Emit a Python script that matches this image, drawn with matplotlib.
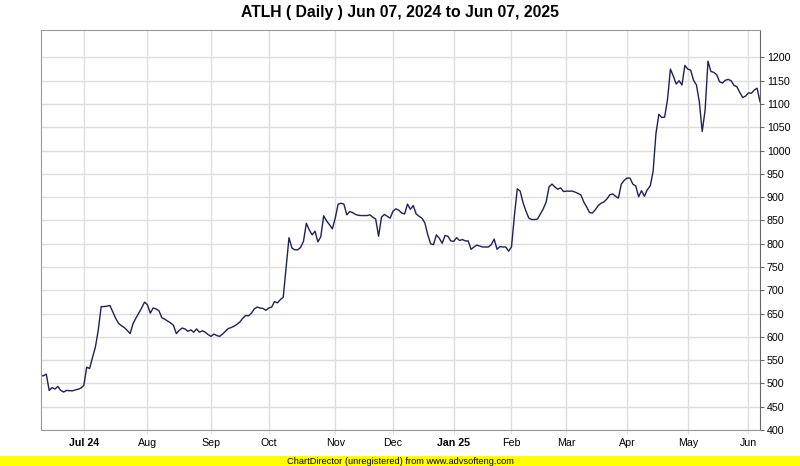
import numpy as np
import pandas as pd
import matplotlib
matplotlib.use("Agg")
import matplotlib.pyplot as plt
from matplotlib.patches import Rectangle

plt.rcParams['font.family'] = ['Liberation Sans', 'DejaVu Sans']

title = "ATLH ( Daily ) Jun 07, 2024 to Jun 07, 2025"
footer = "ChartDirector (unregistered) from www.advsofteng.com"

# market holidays inside the window (no data on these days)
holidays = ["2024-06-19", "2024-07-04", "2024-09-02", "2024-11-28", "2024-12-25",
            "2025-01-01", "2025-01-09", "2025-01-20", "2025-02-17", "2025-04-18",
            "2025-05-26"]

# daily closes, one per trading day
close_jun = [516.5, 516.5, 520, 485, 491, 488, 493.6, 485, 481.5, 485,
             484.5, 484, 486, 487.5, 490]
close_jul = [496, 535, 532, 556, 578, 615, 665, 665, 666, 667.4,
             654, 640, 629, 624, 620, 614, 607, 628, 640, 651,
             662, 674.7]
close_aug = [669, 651, 662, 660, 656, 641, 638, 634, 630, 625,
             607, 614, 619, 617, 612, 615, 610, 617, 610, 613,
             610, 605]
close_sep = [601, 606, 603, 601, 606, 612, 618, 620, 623, 627,
             632, 640, 646, 645, 651, 660, 664, 662, 661, 657]
close_oct = [662, 664, 676, 673, 680, 685, 750, 813, 791, 787,
             787, 792, 805, 844, 830, 819, 827, 804, 815, 860,
             849, 841, 832]
close_nov = [855, 885, 887, 885, 862, 869, 867, 863, 861, 860.5,
             860.5, 860.5, 862, 857, 853, 816, 857, 863, 859, 855]
close_dec = [870, 875, 872, 866, 864, 885, 874, 882, 864, 859,
             855, 845, 820, 800, 798, 819, 812, 801, 817.7, 816,
             806]
close_jan = [805, 813, 807, 809, 806, 806, 788, 793, 797, 795,
             793, 793, 793, 798, 810, 788, 794, 793, 793, 784]
close_feb = [793, 860, 918, 913, 888, 870, 855, 852, 852, 853,
             864, 875, 890, 922, 928, 922, 917, 920, 912]
close_mar = [913, 913, 913, 911, 908, 905, 890, 879, 867, 866,
             873, 882, 887, 890, 896, 905, 907, 902, 898, 928,
             936]
close_apr = [941, 941, 928, 924, 901, 914, 902, 916, 924, 955,
             1037, 1078, 1071, 1072, 1110, 1175, 1160, 1143, 1150, 1141,
             1183]
close_may = [1175, 1173, 1151, 1141, 1105, 1041, 1087, 1192, 1170, 1168,
             1163, 1148, 1145, 1151, 1153, 1150, 1140, 1137, 1125, 1114,
             1117]
close_jun25 = [1124, 1123, 1130, 1134, 1105]

closes = (close_jun + close_jul + close_aug + close_sep + close_oct + close_nov
          + close_dec + close_jan + close_feb + close_mar + close_apr
          + close_may + close_jun25)

dates = pd.bdate_range("2024-06-07", "2025-06-06")
dates = dates[~dates.isin(pd.to_datetime(holidays))]
idx = np.arange(len(dates))

# first trading day of each month -> tick
month_first = [i for i in range(1, len(dates)) if dates[i].month != dates[i - 1].month]
tick_labels = []
for i in month_first:
    d = dates[i]
    if d.month == 1 or i == month_first[0]:
        tick_labels.append(d.strftime("%b %y"))
    else:
        tick_labels.append(d.strftime("%b"))

W, H = 800, 466
fig = plt.figure(figsize=(W / 100, H / 100), dpi=100)
fig.patch.set_facecolor("white")

left, right, top, bottom = 40.5, 760, 30, 430
ax = fig.add_axes([left / W, 1 - bottom / H, (right - left) / W, (bottom - top) / H])

ax.plot(idx, closes, color="#1f1f5e", lw=1.0)

ax.set_xlim(0, len(dates) - 1)
ax.set_ylim(400, 1259)

ax.yaxis.tick_right()
ax.set_yticks(np.arange(400, 1201, 50))
ax.tick_params(axis="y", labelsize=7.7, length=3, color="#666666", pad=2)
ax.set_xticks(month_first)
ax.set_xticklabels(tick_labels)
ax.tick_params(axis="x", labelsize=7.7, length=3, color="#dddddd", pad=3)
for lab in ax.get_xticklabels():
    if " " in lab.get_text():
        lab.set_fontweight("bold")

ax.grid(True, color="#dddddd", lw=1)
ax.set_axisbelow(True)
for s in ["left", "top", "bottom"]:
    ax.spines[s].set_color("#999999")
ax.spines["right"].set_color("#666666")

fig.text(0.5, 1 - 13 / H, title, ha="center", va="center", fontsize=11.3, fontweight="bold")

fig.patches.append(Rectangle((0, 0), 1, 10 / H, transform=fig.transFigure,
                             facecolor="#ffff00", edgecolor="none"))
fig.text(0.5, 5 / H, footer, ha="center", va="center", fontsize=6.7)

fig.savefig("out.png", dpi=100)
